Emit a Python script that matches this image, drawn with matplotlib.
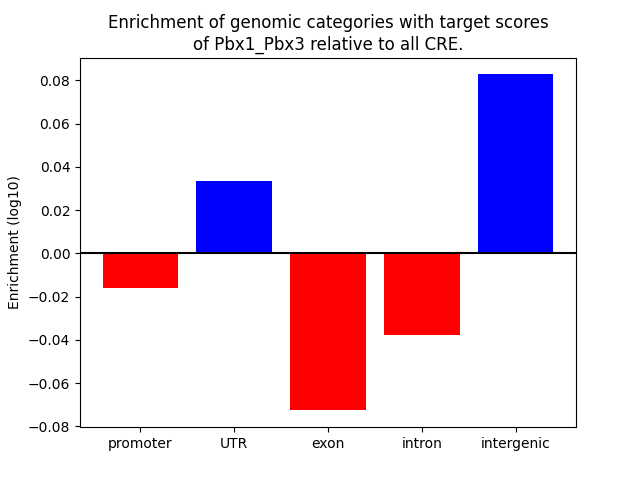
import matplotlib
matplotlib.use("Agg")
import matplotlib.pyplot as plt

categories = ["promoter", "UTR", "exon", "intron", "intergenic"]
values = [-0.0162, 0.0333, -0.0726, -0.0379, 0.0828]
colors = ["blue" if v > 0 else "red" for v in values]

fig, ax = plt.subplots(figsize=(6.4, 4.8), dpi=100)
ax.bar(range(len(categories)), values, color=colors)
ax.axhline(0, color="black", linewidth=1.5)
ax.set_xticks(range(len(categories)))
ax.set_xticklabels(categories)
ax.set_ylabel("Enrichment (log10)")
ax.set_title("Enrichment of genomic categories with target scores\nof Pbx1_Pbx3 relative to all CRE.")
fig.savefig("out.png")
